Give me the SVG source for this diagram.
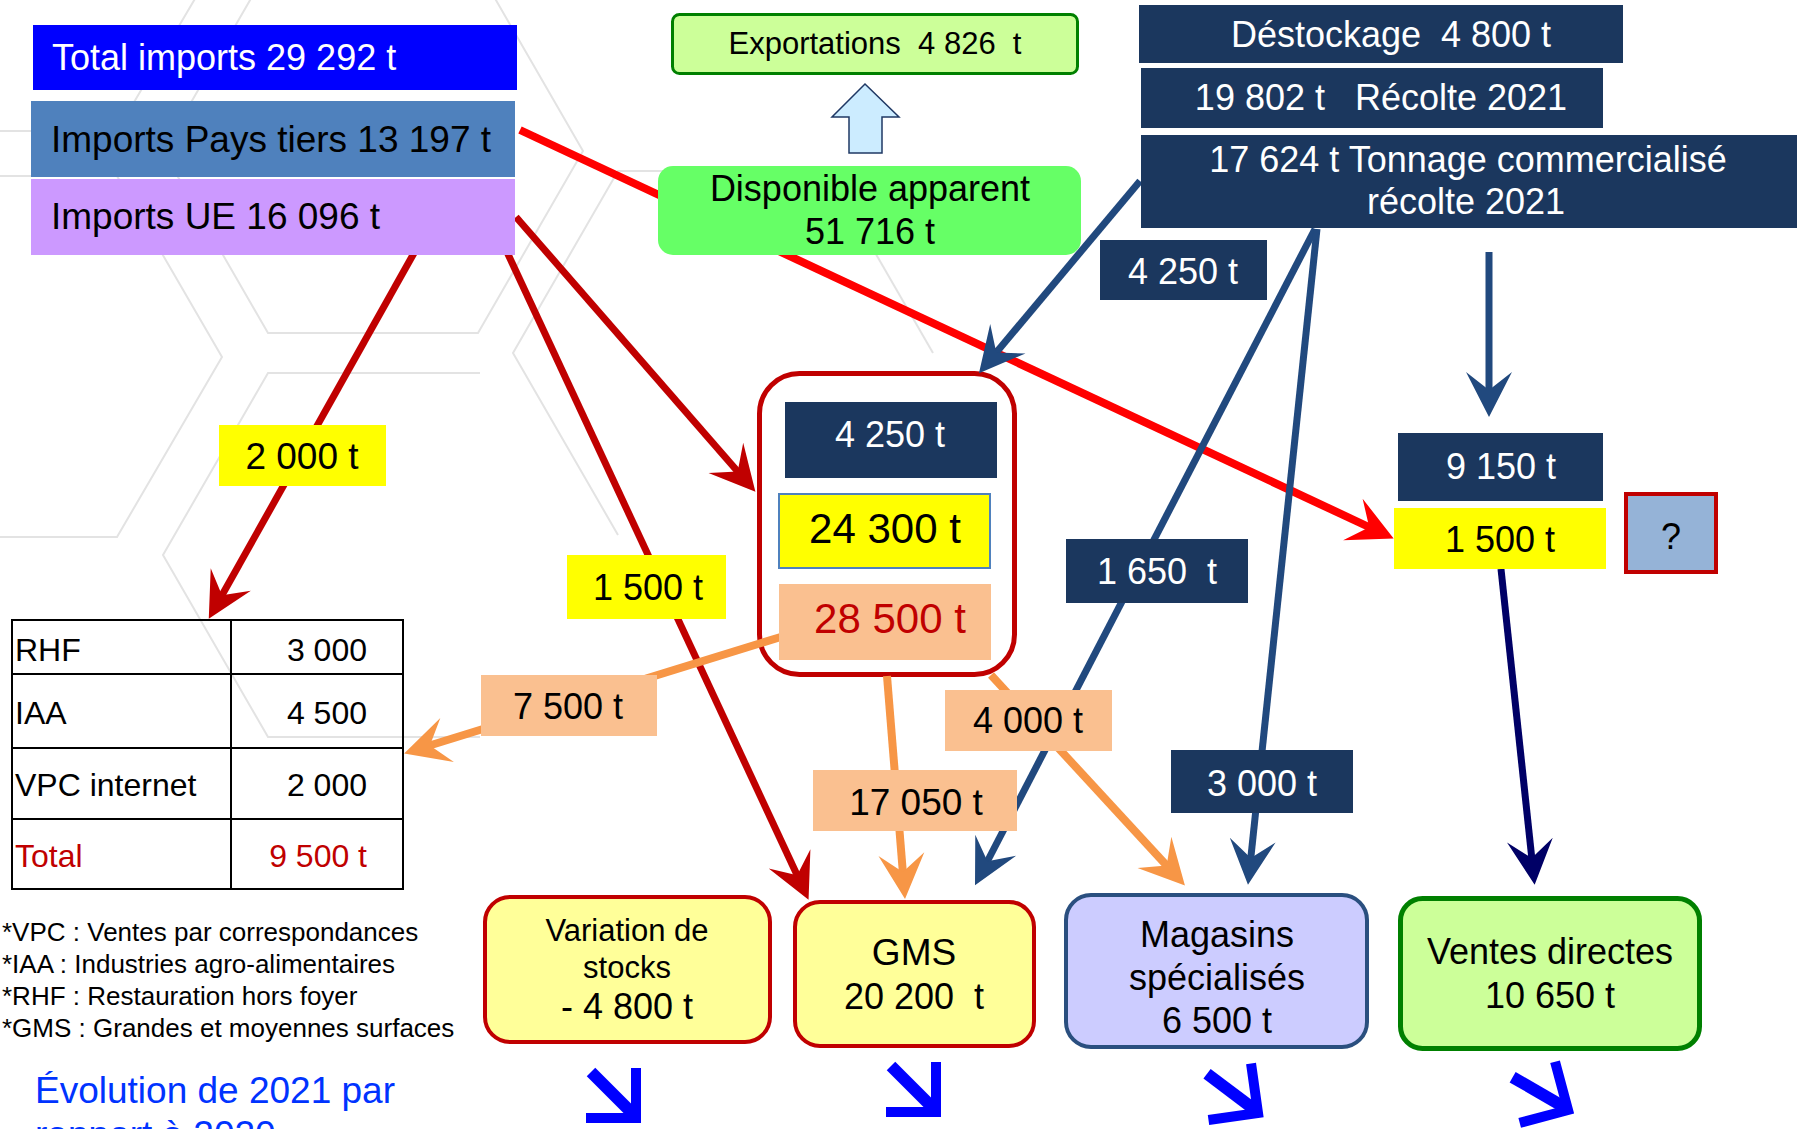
<svg xmlns="http://www.w3.org/2000/svg" width="1797" height="1129" viewBox="0 0 1797 1129">
<style>
text { font-family: "Liberation Sans", Arial, sans-serif; fill: #000; white-space: pre; }
.c { text-anchor: middle; }
.r { text-anchor: end; }
.w { fill: #FFFFFF; }
.f36 { font-size: 36px; }
.navy { fill: #1B375E; }
.yel { fill: #FFFF00; }
.peach { fill: #FAC090; }
.cn { fill: none; stroke-linecap: butt; }
.red { stroke: #C00000; stroke-width: 7; }
.bred { stroke: #FF0000; stroke-width: 8; }
.blue { stroke: #21497E; stroke-width: 7; }
.dnavy { stroke: #000066; stroke-width: 7; }
.orange { stroke: #F79646; stroke-width: 8; }
.tb { stroke: #000; stroke-width: 2; fill: none; }
</style>
<defs>
<marker id="ah-red" viewBox="-22 -24 50 48" refX="0" refY="0" markerWidth="50" markerHeight="48" markerUnits="userSpaceOnUse" orient="auto"><path d="M25,0 L-20,-23 L-2,0 L-20,23 Z" fill="#C00000"/></marker>
<marker id="ah-bred" viewBox="-22 -24 50 48" refX="0" refY="0" markerWidth="50" markerHeight="48" markerUnits="userSpaceOnUse" orient="auto"><path d="M25,0 L-20,-23 L-2,0 L-20,23 Z" fill="#FF0000"/></marker>
<marker id="ah-blue" viewBox="-22 -24 50 48" refX="0" refY="0" markerWidth="50" markerHeight="48" markerUnits="userSpaceOnUse" orient="auto"><path d="M25,0 L-20,-23 L-2,0 L-20,23 Z" fill="#21497E"/></marker>
<marker id="ah-navy" viewBox="-22 -24 50 48" refX="0" refY="0" markerWidth="50" markerHeight="48" markerUnits="userSpaceOnUse" orient="auto"><path d="M25,0 L-20,-23 L-2,0 L-20,23 Z" fill="#000066"/></marker>
<marker id="ah-orange" viewBox="-22 -24 50 48" refX="0" refY="0" markerWidth="50" markerHeight="48" markerUnits="userSpaceOnUse" orient="auto"><path d="M25,0 L-20,-23 L-2,0 L-20,23 Z" fill="#F79646"/></marker>
<g id="trend">
<line x1="-45" y1="-46" x2="-4" y2="-5" stroke="#0000FF" stroke-width="12"/>
<polyline points="0,-50 0,0 -50,0" fill="none" stroke="#0000FF" stroke-width="10" stroke-linejoin="miter"/>
</g>
</defs>

<rect width="1797" height="1129" fill="#FFFFFF"/>

<g id="background" stroke="#E3E3E3" stroke-width="2" fill="none">
<polyline points="268,-31 163,151 268,333 478,333 583,151 478,-31"/>
<polyline points="222,-47 117,131 -93,131"/>
<polyline points="-93,176 117,176 222,357 117,537 -93,537"/>
<polyline points="480,373 268,373 163,555 268,737 480,737"/>
<polyline points="828,171 618,171 513,353 618,535"/>
<line x1="828" y1="171" x2="933" y2="353"/>
</g>

<g id="container">
<rect x="759.5" y="373.5" width="255" height="301" rx="40" fill="#FFFFFF" stroke="#C00000" stroke-width="5"/>
</g>

<g id="connectors">
<line class="cn red" x1="414" y1="253" x2="221" y2="597" marker-end="url(#ah-red)"/>
<line class="cn red" x1="507" y1="252" x2="798" y2="877" marker-end="url(#ah-red)"/>
<line class="cn red" x1="516" y1="217" x2="739" y2="473" marker-end="url(#ah-red)"/>
<line class="cn bred" x1="520" y1="130" x2="1371" y2="528" marker-end="url(#ah-bred)"/>
<line class="cn blue" x1="1140" y1="181" x2="995" y2="354" marker-end="url(#ah-blue)"/>
<line class="cn blue" x1="1315" y1="229" x2="986.5" y2="863" marker-end="url(#ah-blue)"/>
<line class="cn blue" x1="1317" y1="229" x2="1250.6" y2="860" marker-end="url(#ah-blue)"/>
<line class="cn blue" x1="1489" y1="252" x2="1489" y2="392" marker-end="url(#ah-blue)"/>
<line class="cn dnavy" x1="1501" y1="569" x2="1532" y2="860" marker-end="url(#ah-navy)"/>
<line class="cn orange" x1="784" y1="636" x2="428" y2="746" marker-end="url(#ah-orange)"/>
<line class="cn orange" x1="887" y1="676" x2="903" y2="874" marker-end="url(#ah-orange)"/>
<line class="cn orange" x1="991" y1="675" x2="1168" y2="867" marker-end="url(#ah-orange)"/>
</g>

<g id="total-imports">
<rect x="33" y="25" width="484" height="65" fill="#0000FF"/>
<text class="w" x="52" y="70" font-size="36">Total imports 29 292 t</text>
</g>
<g id="imports-pays-tiers">
<rect x="31" y="101" width="484" height="76" fill="#4F81BD"/>
<text x="51" y="152" font-size="37">Imports Pays tiers 13 197 t</text>
</g>
<g id="imports-ue">
<rect x="31" y="179" width="484" height="76" fill="#CC99FF"/>
<text x="51" y="229" font-size="37">Imports UE 16 096 t</text>
</g>

<g id="exportations">
<rect x="672.5" y="14.5" width="405" height="59" rx="7" fill="#CCFF99" stroke="#008000" stroke-width="3"/>
<text class="c" x="875" y="54" font-size="31">Exportations  4 826  t</text>
</g>
<g id="export-arrow">
<polygon points="865,84 899,117 882,117 882,153 849,153 849,117 832,117" fill="#CCECFF" stroke="#1F3864" stroke-width="1.5"/>
</g>
<g id="disponible">
<rect x="658" y="166" width="423" height="89" rx="15" fill="#66FF66"/>
<text class="c" x="870" y="201" font-size="36">Disponible apparent</text>
<text class="c" x="870" y="244" font-size="36">51 716 t</text>
</g>

<g id="destockage">
<rect class="navy" x="1139" y="5" width="484" height="58"/>
<text class="c w f36" x="1391" y="47">Déstockage  4 800 t</text>
</g>
<g id="recolte">
<rect class="navy" x="1141" y="68" width="462" height="60"/>
<text class="c w f36" x="1381" y="110">19 802 t   Récolte 2021</text>
</g>
<g id="tonnage">
<rect class="navy" x="1141" y="135" width="656" height="93"/>
<text class="c w f36" x="1468" y="172">17 624 t Tonnage commercialisé</text>
<text class="c w f36" x="1466" y="214">récolte 2021</text>
</g>

<g id="label-4250-top">
<rect class="navy" x="1100" y="240" width="167" height="60"/>
<text class="c w f36" x="1183" y="284">4 250 t</text>
</g>
<g id="label-1650">
<rect class="navy" x="1066" y="539" width="182" height="64"/>
<text class="c w f36" x="1157" y="584">1 650  t</text>
</g>
<g id="label-3000">
<rect class="navy" x="1171" y="750" width="182" height="63"/>
<text class="c w f36" x="1262" y="796">3 000 t</text>
</g>

<g id="label-9150">
<rect class="navy" x="1398" y="433" width="205" height="68"/>
<text class="c w f36" x="1501" y="479">9 150 t</text>
</g>
<g id="label-1500-right">
<rect class="yel" x="1394" y="508" width="212" height="61"/>
<text class="c f36" x="1500" y="552">1 500 t</text>
</g>
<g id="question">
<rect x="1626" y="494" width="90" height="78" fill="#95B3D7" stroke="#C00000" stroke-width="4"/>
<text class="c f36" x="1671" y="549">?</text>
</g>

<g id="label-2000">
<rect class="yel" x="219" y="425" width="167" height="61"/>
<text class="c" x="302" y="469" font-size="37">2 000 t</text>
</g>
<g id="label-1500-left">
<rect class="yel" x="567" y="555" width="159" height="64"/>
<text class="c f36" x="648" y="600">1 500 t</text>
</g>

<g id="container-4250">
<rect class="navy" x="785" y="402" width="212" height="76"/>
<text class="c w f36" x="890" y="447">4 250 t</text>
</g>
<g id="container-24300">
<rect class="yel" x="779" y="494" width="211" height="74" stroke="#4F81BD" stroke-width="2"/>
<text class="c" x="885" y="543" font-size="42">24 300 t</text>
</g>
<g id="container-28500">
<rect class="peach" x="779" y="584" width="212" height="76"/>
<text class="c" x="890" y="633" font-size="42" style="fill:#C00000">28 500 t</text>
</g>

<g id="label-7500">
<rect class="peach" x="481" y="675" width="176" height="61"/>
<text class="c f36" x="568" y="719">7 500 t</text>
</g>
<g id="label-17050">
<rect class="peach" x="813" y="770" width="204" height="61"/>
<text class="c" x="916" y="815" font-size="37">17 050 t</text>
</g>
<g id="label-4000">
<rect class="peach" x="945" y="690" width="167" height="61"/>
<text class="c f36" x="1028" y="733">4 000 t</text>
</g>

<g id="table">
<rect class="tb" x="12" y="620" width="391" height="269"/>
<line class="tb" x1="231" y1="620" x2="231" y2="889"/>
<line class="tb" x1="12" y1="674" x2="403" y2="674"/>
<line class="tb" x1="12" y1="748" x2="403" y2="748"/>
<line class="tb" x1="12" y1="819" x2="403" y2="819"/>
<text x="15" y="661" font-size="32">RHF</text>
<text class="r" x="367" y="661" font-size="32">3 000</text>
<text x="15" y="724" font-size="32">IAA</text>
<text class="r" x="367" y="724" font-size="32">4 500</text>
<text x="15" y="796" font-size="32">VPC internet</text>
<text class="r" x="367" y="796" font-size="32">2 000</text>
<text x="15" y="867" font-size="32" style="fill:#C00000">Total</text>
<text class="r" x="367" y="867" font-size="32" style="fill:#C00000">9 500 t</text>
</g>

<g id="footnotes">
<text x="2" y="941" font-size="26">*VPC : Ventes par correspondances</text>
<text x="2" y="973" font-size="26">*IAA : Industries agro-alimentaires</text>
<text x="2" y="1005" font-size="26">*RHF : Restauration hors foyer</text>
<text x="2" y="1037" font-size="26">*GMS : Grandes et moyennes surfaces</text>
</g>
<g id="evolution">
<text x="35" y="1103" font-size="37" style="fill:#0033FF">Évolution de 2021 par</text>
<text x="35" y="1147" font-size="37" style="fill:#0033FF">rapport à 2020</text>
</g>

<g id="variation-stocks">
<rect x="485" y="897" width="285" height="145" rx="25" fill="#FFFF99" stroke="#C00000" stroke-width="4"/>
<text class="c" x="627" y="941" font-size="31">Variation de</text>
<text class="c" x="627" y="978" font-size="31">stocks</text>
<text class="c" x="627" y="1019" font-size="36">- 4 800 t</text>
</g>
<g id="gms">
<rect x="795" y="902" width="239" height="144" rx="25" fill="#FFFF99" stroke="#C00000" stroke-width="4"/>
<text class="c" x="914" y="965" font-size="37">GMS</text>
<text class="c f36" x="914" y="1009">20 200  t</text>
</g>
<g id="magasins">
<rect x="1066" y="895" width="301" height="152" rx="25" fill="#CCCCFF" stroke="#2A4F7F" stroke-width="4"/>
<text class="c f36" x="1217" y="947">Magasins</text>
<text class="c f36" x="1217" y="990">spécialisés</text>
<text class="c f36" x="1217" y="1033">6 500 t</text>
</g>
<g id="ventes-directes">
<rect x="1400.5" y="898.5" width="299" height="150" rx="22" fill="#CCFF99" stroke="#008000" stroke-width="5"/>
<text class="c f36" x="1550" y="964">Ventes directes</text>
<text class="c f36" x="1550" y="1008">10 650 t</text>
</g>

<g id="trends">
<use href="#trend" transform="translate(636,1118)"/>
<use href="#trend" transform="translate(936,1112)"/>
<use href="#trend" transform="translate(1258,1113) rotate(-8)"/>
<use href="#trend" transform="translate(1568,1110) rotate(-15)"/>
</g>
</svg>
